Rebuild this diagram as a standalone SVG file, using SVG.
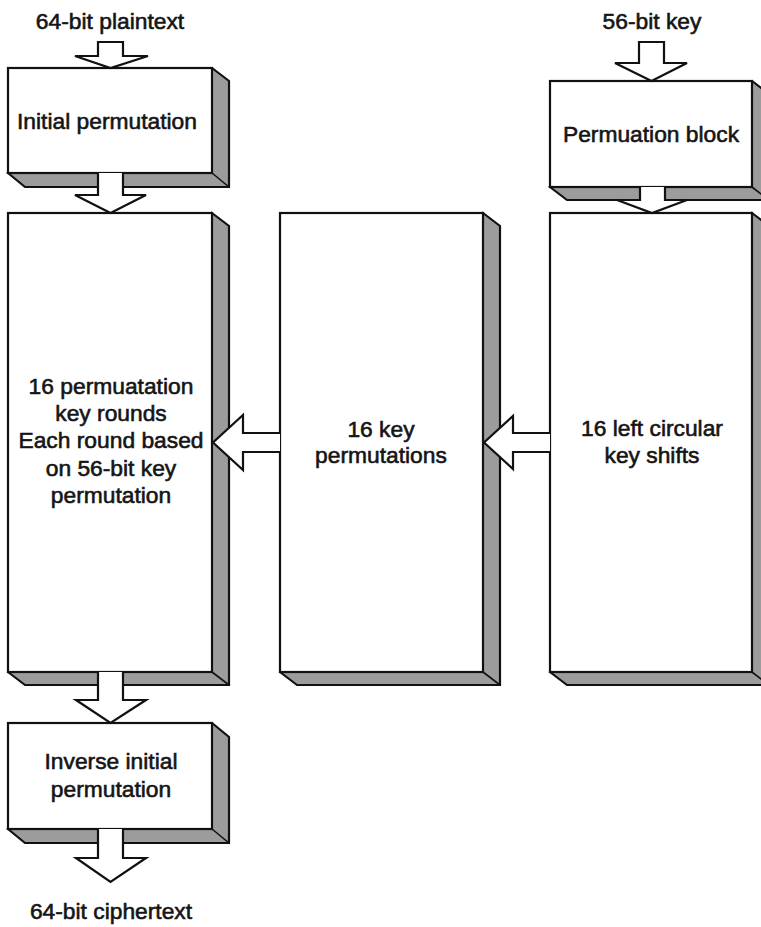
<svg xmlns="http://www.w3.org/2000/svg" width="761" height="927" viewBox="0 0 761 927">
<defs>
<style>
.face{fill:#ffffff;stroke:#111;stroke-width:2.2;stroke-linejoin:miter}
.shade{fill:#9c9c9c;stroke:#111;stroke-width:2.2;stroke-linejoin:miter}
.edge{fill:none;stroke:#111;stroke-width:1.6}
.arrow{fill:#ffffff;stroke:#111;stroke-width:2.2;stroke-linejoin:miter}
.t{font-family:"Liberation Sans",Arial,sans-serif;font-size:22.8px;fill:#151515;stroke:#151515;stroke-width:0.6;text-anchor:middle}
</style>
</defs>
<rect width="761" height="927" fill="#ffffff"/>

<g id="initial-permutation">
<polygon class="shade" points="212,68 229,81 229,187 25,187 8,173"/>
<line class="edge" x1="212" y1="173" x2="229" y2="187"/>
<rect class="face" x="8" y="68" width="204" height="105"/>
<text class="t" x="107" y="129">Initial permutation</text>
</g>

<g id="rounds">
<polygon class="shade" points="212,213 229,226 229,685 25,685 8,672"/>
<line class="edge" x1="212" y1="672" x2="229" y2="685"/>
<rect class="face" x="8" y="213" width="204" height="459"/>
<text class="t" x="111" y="394">16 permuatation</text>
<text class="t" x="111" y="421">key rounds</text>
<text class="t" x="111" y="448">Each round based</text>
<text class="t" x="111" y="476">on 56-bit key</text>
<text class="t" x="111" y="503">permutation</text>
</g>

<g id="inverse-permutation">
<polygon class="shade" points="212,723 229,737 229,843 25,843 8,829"/>
<line class="edge" x1="212" y1="829" x2="229" y2="843"/>
<rect class="face" x="8" y="723" width="204" height="106"/>
<text class="t" x="111" y="769">Inverse initial</text>
<text class="t" x="111" y="797">permutation</text>
</g>

<g id="key-permutations">
<polygon class="shade" points="483,213 500,226 500,685 297,685 280,672"/>
<line class="edge" x1="483" y1="672" x2="500" y2="685"/>
<rect class="face" x="280" y="213" width="203" height="459"/>
<text class="t" x="381" y="437">16 key</text>
<text class="t" x="381" y="463">permutations</text>
</g>

<g id="permutation-block">
<polygon class="shade" points="752,81 769,94 769,200 567,200 550,187"/>
<line class="edge" x1="752" y1="187" x2="769" y2="200"/>
<rect class="face" x="550" y="81" width="202" height="106"/>
<text class="t" x="651" y="142">Permuation block</text>
</g>

<g id="key-shifts">
<polygon class="shade" points="752,213 769,226 769,685 567,685 550,672"/>
<line class="edge" x1="752" y1="672" x2="769" y2="685"/>
<rect class="face" x="550" y="213" width="202" height="459"/>
<text class="t" x="652" y="436">16 left circular</text>
<text class="t" x="652" y="463">key shifts</text>
</g>

<g id="labels">
<text class="t" x="110" y="29">64-bit plaintext</text>
<text class="t" x="652" y="29">56-bit key</text>
<text class="t" x="111" y="919">64-bit ciphertext</text>
</g>

<g id="connectors">
<path class="arrow" d="M98,42 L123,42 L123,56 L148,56 L110.5,68 L75,56 L98,56 Z"/>
<path class="arrow" d="M98,173 L98,195 L75,195 L110.5,213 L146,195 L123,195 L123,173"/>
<path class="arrow" d="M98,672 L98,700 L76,700 L110.5,723 L146,700 L123,700 L123,672"/>
<path class="arrow" d="M98,829 L98,858 L76,858 L110.5,882 L146,858 L123,858 L123,829"/>
<path class="arrow" d="M639,42 L664,42 L664,63 L687,63 L651.5,81 L615,63 L639,63 Z"/>
<path class="arrow" d="M640,187 L640,200 L617,200 L652,213 L687,200 L665,200 L665,187"/>
<path class="arrow" d="M280,433 L243,433 L243,415 L213,442.5 L243,470 L243,452 L280,452"/>
<path class="arrow" d="M550,433 L513,433 L513,416 L484,442.5 L513,469 L513,452 L550,452"/>
</g>
</svg>
